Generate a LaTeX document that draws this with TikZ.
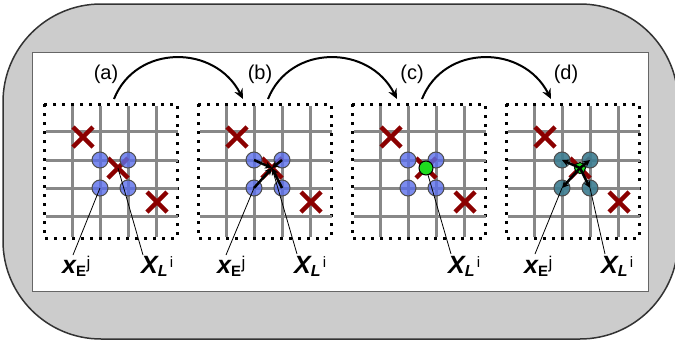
\documentclass[tikz,border=0pt]{standalone}
\usepackage{fontspec}
\setmainfont{Liberation Sans}
\usetikzlibrary{arrows.meta}
\definecolor{outerfill}{HTML}{CCCCCC}
\definecolor{outerline}{HTML}{333333}
\definecolor{gridgray}{HTML}{888888}
\definecolor{xred}{HTML}{8B0000}
\definecolor{cblue}{RGB}{90,110,235}
\definecolor{cteal}{RGB}{60,125,145}
\definecolor{cgreen}{RGB}{30,220,30}
\tikzset{
 gridline/.style={gridgray, line width=3pt},
 dotbox/.style={black, line width=3pt, dash pattern=on 3pt off 6pt},
 redx/.style={xred, line width=4.5pt},
 bcirc/.style={circle, minimum size=16pt, inner sep=0pt, fill=cblue, fill opacity=0.8, draw=black!70, line width=1pt},
 tcirc/.style={bcirc, fill=cteal, fill opacity=0.9},
 gcirc/.style={circle, minimum size=14pt, inner sep=0pt, fill=cgreen, draw=black, line width=1pt},
 leader/.style={black, line width=0.8pt},
 push/.style={black, line width=2.5pt, -{Stealth[length=7pt,width=7pt]}},
 flow/.style={black, line width=2pt, -{Stealth[length=10pt,width=9pt]}},
 tag/.style={font=\fontsize{20}{20}\selectfont, inner sep=0pt},
 lab/.style={inner sep=0pt, anchor=base west},
}
\newcommand\xElabel{{\fontsize{25}{25}\selectfont\bfseries\itshape x}\rlap{\raisebox{-3pt}{\fontsize{15}{15}\selectfont\bfseries E}}\kern10.5pt\raisebox{5pt}{\fontsize{17}{17}\selectfont j}}
\newcommand\XLlabel{{\fontsize{25}{25}\selectfont\bfseries\itshape X}\rlap{\raisebox{-3pt}{\fontsize{16}{16}\selectfont\bfseries\itshape L}}\kern12pt\raisebox{5.5pt}{\fontsize{15}{15}\selectfont i}}
\newcommand\panelbase{%
 \draw[dotbox] (0,104) rectangle (133,238);
 \foreach \v in {28,56,84,112} \draw[gridline] (\v,106) -- (\v,237);
 \foreach \h in {131,160,188,216} \draw[gridline] (2,\h) -- (134,\h);
 \coordinate (x1) at (39,137);
 \coordinate (x2) at (74,168);
 \coordinate (x3) at (113,202);
 \coordinate (out) at (70,99);
 \coordinate (in) at (45,99);
 \foreach \p in {x1,x2,x3} \draw[redx] (\p) +(-10,-10) -- +(10,10) (\p) +(-10,10) -- +(10,-10);
}
\begin{document}
\begin{tikzpicture}[x=1pt,y=-1pt]
\useasboundingbox (0,0) rectangle (675,343);
\clip (0,0) rectangle (675,343);
\draw[fill=outerfill, draw=outerline, line width=1.5pt, rounded corners=98pt] (3,4) rectangle (678,339);
\draw[fill=white, draw=black!60, line width=1pt] (32,52) rectangle (648,291);

% panel (a)
\begin{scope}[shift={(44,0)}, name prefix=a-]
 \panelbase
 \node[bcirc] (tl) at (56,160) {};
 \node[bcirc] (tr) at (84,160) {};
 \node[bcirc] (bl) at (56,188) {};
 \node[bcirc] (br) at (84,188) {};
 \node[tag] (t) at (62,74) {(a)};
 \node[lab] (xe) at (18,273) {\xElabel};
 \node[lab] (xl) at (97,273) {\XLlabel};
 \coordinate (xeTip) at (29,255);
 \coordinate (xlTip) at (99,255);
 \draw[leader] (xeTip) -- (bl.center);
 \draw[leader] (xlTip) -- (x2);
\end{scope}

% panel (b)
\begin{scope}[shift={(198,0)}, name prefix=b-]
 \panelbase
 \node[bcirc] (tl) at (56,160) {};
 \node[bcirc] (tr) at (84,160) {};
 \node[bcirc] (bl) at (56,188) {};
 \node[bcirc] (br) at (84,188) {};
 \draw[push] (tl.center) -- (x2);
 \draw[push] (tr.center) -- (x2);
 \draw[push] (bl.center) -- (x2);
 \draw[push] (br.center) -- (x2);
 \node[tag] (t) at (62,74) {(b)};
 \node[lab] (xe) at (19,273) {\xElabel};
 \node[lab] (xl) at (96,273) {\XLlabel};
 \coordinate (xeTip) at (28,255);
 \coordinate (xlTip) at (99,254);
 \draw[leader] (xeTip) -- (bl.center);
 \draw[leader] (xlTip) -- (x2);
\end{scope}

% panel (c)
\begin{scope}[shift={(352,0)}, name prefix=c-]
 \panelbase
 \node[bcirc] (tl) at (56,160) {};
 \node[bcirc] (tr) at (84,160) {};
 \node[bcirc] (bl) at (56,188) {};
 \node[bcirc] (br) at (84,188) {};
 \node[gcirc] (g) at (x2) {};
 \node[tag] (t) at (60,74) {(c)};
 \node[lab] (xl) at (96,273) {\XLlabel};
 \coordinate (xlTip) at (99,254);
 \draw[leader] (xlTip) -- (g);
\end{scope}

% panel (d)
\begin{scope}[shift={(506,0)}, name prefix=d-]
 \panelbase
 \node[tcirc] (tl) at (56,160) {};
 \node[tcirc] (tr) at (84,160) {};
 \node[tcirc] (bl) at (56,188) {};
 \node[tcirc] (br) at (84,188) {};
 \node[gcirc, minimum size=11pt] (g) at (x2) {};
 \draw[push] (g.center) -- (tl.center);
 \draw[push] (g.center) -- (tr.center);
 \draw[push] (g.center) -- (bl.center);
 \draw[push] (g.center) -- (br.center);
 \node[tag] (t) at (60,74) {(d)};
 \node[lab] (xe) at (18,273) {\xElabel};
 \node[lab] (xl) at (95,273) {\XLlabel};
 \coordinate (xeTip) at (29,254);
 \coordinate (xlTip) at (99,254);
 \draw[leader] (xeTip) -- (bl.center);
 \draw[leader] (xlTip) -- (br.center);
\end{scope}

\draw[flow] (a-out) .. controls +(22,-55) and +(-28,-55) .. (b-in);
\draw[flow] (b-out) .. controls +(22,-55) and +(-28,-55) .. (c-in);
\draw[flow] (c-out) .. controls +(22,-55) and +(-28,-55) .. (d-in);
\end{tikzpicture}
\end{document}
